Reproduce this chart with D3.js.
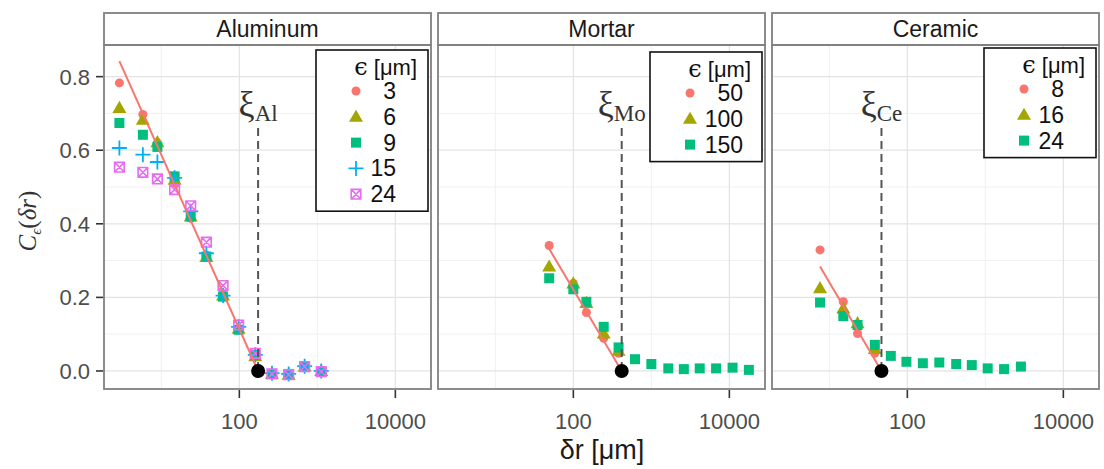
<!DOCTYPE html>
<html><head><meta charset="utf-8">
<script src="https://cdn.jsdelivr.net/npm/d3@7/dist/d3.min.js"></script>
<style>body{margin:0;background:#fff}</style>
</head><body><svg id="chart" width="1104" height="469"></svg>
<script>
// ---------- data ----------
const panelNames = ["Aluminum", "Mortar", "Ceramic"];
const xiSubs = ["Al", "Mo", "Ce"];
const xiValues = [174, 417, 46.6];

const alDr = [2.9, 5.8, 8.9, 14.8, 23.8, 37.8, 61.8, 98, 160, 262, 429, 687, 1122];
const alEps = ["3", "6", "9", "15", "24"];
const alC3  = [0.783, 0.697, 0.620, 0.510, 0.415, 0.315, 0.210, 0.115, 0.040, -0.008, -0.010, 0.012, 0.000];
const alC6  = [0.715, 0.683, 0.622, 0.520, 0.420, 0.310, 0.205, 0.115, 0.040, -0.008, -0.010, 0.012, 0.000];
const alC9  = [0.674, 0.642, 0.609, 0.529, 0.420, 0.311, 0.202, 0.112, 0.044, -0.008, -0.008, 0.012, 0.000];
const alC15 = [0.606, 0.588, 0.568, 0.525, 0.434, 0.320, 0.205, 0.120, 0.044, -0.006, -0.008, 0.013, 0.000];
const alC24 = [0.554, 0.540, 0.522, 0.493, 0.449, 0.350, 0.232, 0.125, 0.048, -0.008, -0.010, 0.012, -0.002];
const alFitDr = [2.9, 174];
const alFitC  = [0.842, 0];

const moDr = [49, 100, 147, 245, 380, 617, 1000, 1650, 2610, 4170, 6760, 11000, 17800];
const moEps = ["50", "100", "150"];
const moC50  = [0.341, 0.238, 0.159, 0.089, 0.048];
const moC100 = [0.284, 0.238, 0.185, 0.102, 0.055];
const moC150 = [0.252, 0.222, 0.188, 0.120, 0.064, 0.032, 0.019, 0.007, 0.005, 0.007, 0.007, 0.009, 0.003];
const moFitDr = [48.7, 417];
const moFitC  = [0.333, 0];

const ceDr = [7.6, 15.1, 23, 38.3, 61.4, 97.3, 158, 257, 423, 670, 1072, 1738, 2858];
const ceEps = ["8", "16", "24"];
const ceC8  = [0.329, 0.188, 0.102, 0.048];
const ceC16 = [0.225, 0.170, 0.130, 0.060];
const ceC24 = [0.186, 0.149, 0.125, 0.071, 0.041, 0.025, 0.021, 0.023, 0.019, 0.016, 0.007, 0.005, 0.012];
const ceFitDr = [7.6, 46.6];
const ceFitC  = [0.284, 0];

const xMajor = [100, 10000];
const xMinor = [10, 1000];
const yMajor = [0, 0.2, 0.4, 0.6, 0.8];
const yMinor = [0.1, 0.3, 0.5, 0.7];
const xTickLabels = ["100", "10000"];
const yTickLabels = ["0.0", "0.2", "0.4", "0.6", "0.8"];

const colors = ["#F8766D", "#A3A500", "#00BF7D", "#00B0F6", "#E76BF3"];
const shapes = ["circle", "triangle", "square", "plus", "squarex"];

const panelData = [
  {dr: alDr, eps: alEps, series: [alC3, alC6, alC9, alC15, alC24], fitDr: alFitDr, fitC: alFitC},
  {dr: moDr, eps: moEps, series: [moC50, moC100, moC150], fitDr: moFitDr, fitC: moFitC},
  {dr: ceDr, eps: ceEps, series: [ceC8, ceC16, ceC24], fitDr: ceFitDr, fitC: ceFitC}
];

// ---------- layout ----------
const svg = d3.select("#chart");
const panelLefts = [104, 438, 772];
const pw = 327, pTop = 45, pBottom = 389, stripTop = 13;
const y = d3.scaleLinear().domain([-0.049, 0.886]).range([pBottom, pTop]);
const sans = "'Liberation Sans', Arial, sans-serif";
const serif = "'Liberation Serif', 'DejaVu Serif', serif";

function drawShape(g, shape, cx, cy, col) {
  if (shape === "circle") {
    g.append("path").attr("d", d3.symbol(d3.symbolCircle, 64)()).attr("transform", `translate(${cx},${cy})`).attr("fill", col);
  } else if (shape === "triangle") {
    g.append("path").attr("d", d3.symbol(d3.symbolTriangle, 85)()).attr("transform", `translate(${cx},${cy + 1})`).attr("fill", col);
  } else if (shape === "square") {
    g.append("path").attr("d", d3.symbol(d3.symbolSquare, 100)()).attr("transform", `translate(${cx},${cy})`).attr("fill", col);
  } else if (shape === "plus") {
    const s = 7.5;
    g.append("path").attr("d", `M${cx - s},${cy}H${cx + s}M${cx},${cy - s}V${cy + s}`).attr("stroke", col).attr("stroke-width", 1.8).attr("fill", "none");
  } else if (shape === "squarex") {
    const s = 4.8;
    g.append("path").attr("d", `M${cx - s},${cy - s}H${cx + s}V${cy + s}H${cx - s}Z M${cx - s},${cy - s}L${cx + s},${cy + s}M${cx + s},${cy - s}L${cx - s},${cy + s}`)
      .attr("stroke", col).attr("stroke-width", 1.6).attr("fill", "none");
  }
}

panelData.forEach((pd, pi) => {
  const left = panelLefts[pi];
  const x = d3.scaleLog().domain([Math.pow(10, 0.265), Math.pow(10, 4.457)]).range([left, left + pw]);
  const g = svg.append("g");

  // background + grid
  g.append("rect").attr("x", left).attr("y", pTop).attr("width", pw).attr("height", pBottom - pTop).attr("fill", "#fff");
  yMinor.forEach(v => g.append("line").attr("x1", left).attr("x2", left + pw).attr("y1", y(v)).attr("y2", y(v)).attr("stroke", "#f0f0f0").attr("stroke-width", 1));
  xMinor.forEach(v => g.append("line").attr("x1", x(v)).attr("x2", x(v)).attr("y1", pTop).attr("y2", pBottom).attr("stroke", "#f0f0f0").attr("stroke-width", 1));
  yMajor.forEach(v => g.append("line").attr("x1", left).attr("x2", left + pw).attr("y1", y(v)).attr("y2", y(v)).attr("stroke", "#e3e3e3").attr("stroke-width", 1.2));
  xMajor.forEach(v => g.append("line").attr("x1", x(v)).attr("x2", x(v)).attr("y1", pTop).attr("y2", pBottom).attr("stroke", "#e3e3e3").attr("stroke-width", 1.2));

  // strip
  g.append("rect").attr("x", left).attr("y", stripTop).attr("width", pw).attr("height", pTop - stripTop)
    .attr("fill", "#fff").attr("stroke", "#808080").attr("stroke-width", 1.8);
  g.append("text").attr("x", left + pw / 2).attr("y", 37).attr("text-anchor", "middle")
    .attr("font-family", sans).attr("font-size", 23).attr("fill", "#1a1a1a").text(panelNames[pi]);

  // points
  pd.series.forEach((vals, si) => {
    const pg = g.append("g");
    vals.forEach((v, i) => drawShape(pg, shapes[si], x(pd.dr[i]), y(v), colors[si]));
  });

  // fit line
  g.append("path").attr("d", d3.line().x((d, i) => x(pd.fitDr[i])).y(d => y(d))(pd.fitC))
    .attr("stroke", "#F8766D").attr("stroke-width", 2).attr("fill", "none");

  // xi dashed line + label + dot
  const xv = x(xiValues[pi]);
  g.append("line").attr("x1", xv).attr("x2", xv).attr("y1", 128).attr("y2", y(0))
    .attr("stroke", "#555").attr("stroke-width", 2).attr("stroke-dasharray", "8,5");
  const t = g.append("text").attr("x", xv).attr("y", 116).attr("text-anchor", "middle")
    .attr("font-family", serif).attr("fill", "#333");
  t.append("tspan").attr("font-size", 36).text("ξ");
  t.append("tspan").attr("font-size", 23).attr("dy", 5).text(xiSubs[pi]);
  g.append("circle").attr("cx", xv).attr("cy", y(0)).attr("r", 7).attr("fill", "#000");

  // panel border
  g.append("rect").attr("x", left).attr("y", pTop).attr("width", pw).attr("height", pBottom - pTop)
    .attr("fill", "none").attr("stroke", "#808080").attr("stroke-width", 1.8);

  // x ticks
  xMajor.forEach((v, i) => {
    g.append("line").attr("x1", x(v)).attr("x2", x(v)).attr("y1", pBottom + 1).attr("y2", pBottom + 9).attr("stroke", "#333").attr("stroke-width", 1.6);
    g.append("text").attr("x", x(v)).attr("y", 429).attr("text-anchor", "middle")
      .attr("font-family", sans).attr("font-size", 22).attr("fill", "#4d4d4d").text(xTickLabels[i]);
  });

  // legend
  const n = pd.eps.length;
  const bw = 112, bRight = left + pw - 3, bLeft = bRight - bw, bTop = [50, 52, 48][pi];
  const bh = 40 + (n - 1) * 25.8 + 18;
  const lg = g.append("g");
  lg.append("rect").attr("x", bLeft).attr("y", bTop).attr("width", bw).attr("height", bh)
    .attr("fill", "#fff").attr("stroke", "#111").attr("stroke-width", 1.6);
  const lt = lg.append("text").attr("x", bRight - 11).attr("y", bTop + 25).attr("text-anchor", "end")
    .attr("font-family", sans).attr("font-size", 22).attr("fill", "#111");
  lt.append("tspan").attr("font-family", "'DejaVu Serif', serif").attr("font-size", 24).text("ϵ");
  lt.append("tspan").text(" [μm]");
  const maxLen = d3.max(pd.eps, e => e.length);
  const keyX = bLeft + 40;
  const labRight = keyX + 14 + maxLen * 13;
  pd.eps.forEach((e, i) => {
    const cy = bTop + 41 + i * 25.8;
    drawShape(lg, shapes[i], keyX, cy, colors[i]);
    lg.append("text").attr("x", labRight).attr("y", cy + 8).attr("text-anchor", "end")
      .attr("font-family", sans).attr("font-size", 23).attr("fill", "#111").text(e);
  });

  // y axis on first panel
  if (pi === 0) {
    yMajor.forEach((v, i) => {
      g.append("line").attr("x1", left - 8).attr("x2", left - 1).attr("y1", y(v)).attr("y2", y(v)).attr("stroke", "#333").attr("stroke-width", 1.6);
      g.append("text").attr("x", left - 14).attr("y", y(v) + 8).attr("text-anchor", "end")
        .attr("font-family", sans).attr("font-size", 22).attr("fill", "#4d4d4d").text(yTickLabels[i]);
    });
  }
});

// axis titles
svg.append("text").attr("x", 602).attr("y", 459).attr("text-anchor", "middle")
  .attr("font-family", sans).attr("font-size", 27).attr("fill", "#1a1a1a").text("δr [μm]");

const yt = svg.append("text").attr("transform", "translate(36,221) rotate(-90)").attr("text-anchor", "middle")
  .attr("font-family", serif).attr("font-size", 25).attr("fill", "#333");
yt.append("tspan").attr("font-style", "italic").text("C");
yt.append("tspan").attr("font-style", "italic").attr("font-size", 15).attr("dy", 5).text("ϵ");
yt.append("tspan").attr("dy", -5).text("(");
yt.append("tspan").attr("font-style", "italic").text("δr");
yt.append("tspan").text(")");
</script></body></html>
